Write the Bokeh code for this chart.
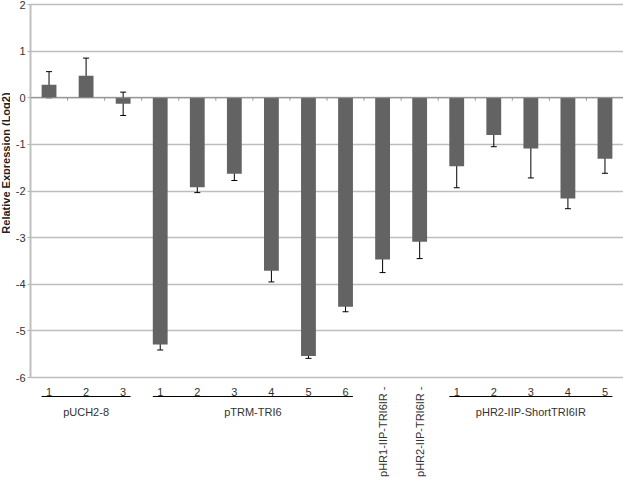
from math import pi
from bokeh.plotting import figure
from bokeh.layouts import row
from bokeh.models import ColumnDataSource, Range1d, FixedTicker, Whisker, TeeHead, Span
from bokeh.core.properties import value
from bokeh.embed import file_html
from bokeh.resources import INLINE

# ---- data ----
values = [0.28, 0.47, -0.13, -5.29, -1.92, -1.63, -3.71, -5.54, -4.48, -3.47,
          -3.09, -1.47, -0.80, -1.09, -2.16, -1.31]
errors = [0.28, 0.38, 0.25, 0.12, 0.115, 0.145, 0.24, 0.05, 0.11, 0.28,
          0.36, 0.46, 0.25, 0.63, 0.22, 0.31]
bar_numbers = ["1", "2", "3", "1", "2", "3", "4", "5", "6", "", "",
               "1", "2", "3", "4", "5"]
group_names = ["pUCH2-8", "pTRM-TRI6", "pHR2-IIP-ShortTRI6IR"]
group_first = [0, 3, 11]
group_last = [2, 8, 15]
rotated_labels = ["pHR1-IIP-TRI6IR -", "pHR2-IIP-TRI6IR -"]
rotated_index = [9, 10]
y_ticks = [-6, -5, -4, -3, -2, -1, 0, 1, 2]
y_tick_labels = ["-6", "-5", "-4", "-3", "-2", "-1", "0", "1", "2"]
y_title = "Relative Expression (Log2)"

Y_MIN, Y_MAX = -6, 2
FONT = value("Liberation Sans")
W, H = 623, 478
TITLE_W = 10
LEFT_PX = 30
TOP_PX, BOTTOM_PX = 4, 377
ppu = (BOTTOM_PX - TOP_PX) / (Y_MAX - Y_MIN)
y_lo = Y_MIN - (H - BOTTOM_PX) / ppu
y_hi = Y_MAX + TOP_PX / ppu

n = len(values)
centers = [i + 0.5 for i in range(n)]

# narrow strip that carries the rotated y-axis title
t = figure(width=TITLE_W, height=H, output_backend="svg", toolbar_location=None,
           x_range=Range1d(0, TITLE_W), y_range=Range1d(y_lo, y_hi),
           x_axis_location=None, y_axis_location=None,
           min_border_left=0, min_border_right=0, min_border_top=0, min_border_bottom=0)
t.outline_line_color = None
t.grid.visible = False
t.text(x=[5], y=[-1.4], text=[y_title], angle=pi / 2, text_align="center",
       text_baseline="middle", text_font=FONT, text_font_style="bold",
       text_font_size="11px", text_color="#222222")

p = figure(width=W - TITLE_W, height=H, output_backend="svg", toolbar_location=None,
           x_range=Range1d(0, n), y_range=Range1d(y_lo, y_hi),
           x_axis_location=None, min_border_left=LEFT_PX - TITLE_W, min_border_right=0,
           min_border_top=0, min_border_bottom=0)
p.outline_line_color = None
p.xgrid.visible = False
p.ygrid.ticker = FixedTicker(ticks=y_ticks)
p.ygrid.grid_line_color = "#bdbdbd"
p.ygrid.grid_line_width = 1.5

ax = p.yaxis[0]
ax.ticker = FixedTicker(ticks=y_ticks)
ax.major_label_overrides = dict(zip(y_ticks, y_tick_labels))
ax.bounds = (Y_MIN, Y_MAX)
ax.axis_line_color = "#c0c0c0"
ax.axis_line_width = 2
ax.major_tick_line_color = "#b0b0b0"
ax.major_tick_out = 3
ax.major_tick_in = 0
ax.minor_tick_line_color = None
ax.major_label_standoff = 2
ax.major_label_text_font = "Liberation Sans"
ax.major_label_text_font_size = "11px"
ax.major_label_text_color = "#333333"

# zero line with slot ticks
p.add_layout(Span(location=0, dimension="width", line_color="#8a8a8a", line_width=1))
bounds = list(range(1, n))
p.segment(x0=bounds, x1=bounds, y0=[0] * len(bounds), y1=[-3 / ppu] * len(bounds),
          line_color="#9a9a9a", line_width=1)

src = ColumnDataSource(dict(x=centers, v=values,
                            up=[v + e for v, e in zip(values, errors)],
                            lo=[v - e for v, e in zip(values, errors)]))
p.vbar(x="x", top="v", bottom=0, width=0.4, source=src,
       fill_color="#636363", line_color=None)
p.add_layout(Whisker(base="x", upper="up", lower="lo", source=src,
                     line_color="black", line_width=1,
                     upper_head=TeeHead(size=6, line_color="black", line_width=1),
                     lower_head=TeeHead(size=6, line_color="black", line_width=1)))

# category labels below the plot
p.text(x=centers, y=[Y_MIN] * n, text=bar_numbers, y_offset=10,
       text_align="center", text_baseline="top", text_font=FONT,
       text_font_size="11px", text_color="#333333")
p.segment(x0=[f + 0.3 for f in group_first], x1=[l + 0.7 for l in group_last],
          y0=[Y_MIN - 19 / ppu] * 3, y1=[Y_MIN - 19 / ppu] * 3,
          line_color="black", line_width=1)
p.text(x=[(f + l) / 2 + 0.5 for f, l in zip(group_first, group_last)],
       y=[Y_MIN] * 3, text=group_names, y_offset=28,
       text_align="center", text_baseline="top", text_font=FONT,
       text_font_size="11px", text_color="#333333")
p.text(x=[i + 0.5 for i in rotated_index], y=[Y_MIN] * 2, text=rotated_labels,
       y_offset=9, angle=pi / 2, text_align="right", text_baseline="middle",
       text_font=FONT, text_font_size="11px", text_color="#333333")

layout = row(t, p, spacing=0)
open("out.html", "w").write(file_html(layout, INLINE))
